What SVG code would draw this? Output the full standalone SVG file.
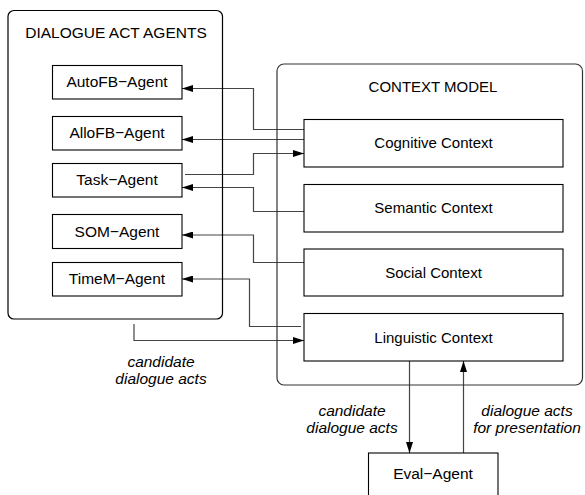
<svg xmlns="http://www.w3.org/2000/svg" width="585" height="495" viewBox="0 0 585 495">
<style>
text{font-family:"Liberation Sans",Arial,sans-serif;fill:#000;text-anchor:middle}
.lbl{font-size:15.5px}
.ctx{font-size:15px}
.it{font-size:15.5px;font-style:italic}
.box{fill:#fff;stroke:#000;stroke-width:1.1}
.cont{fill:none;stroke-width:1.2}
.con{fill:none;stroke:#444;stroke-width:1.2}
</style>
<defs>
<marker id="ah" markerUnits="userSpaceOnUse" markerWidth="11" markerHeight="7" viewBox="0 0 11 7" refX="11" refY="3.5" orient="auto">
<path d="M0,0 L11,3.5 L0,7 z" fill="#000"/>
</marker>
</defs>
<rect width="585" height="495" fill="#fff"/>
<g id="connectors">
<path class="con" d="M304,129.5 H253.5 V88.5 H182" marker-end="url(#ah)"/>
<path class="con" d="M304,139.5 H182" marker-end="url(#ah)"/>
<path class="con" d="M185,174.5 H253.5 V153.5 H304" marker-end="url(#ah)"/>
<path class="con" d="M304,211.5 H253.5 V187.5 H182" marker-end="url(#ah)"/>
<path class="con" d="M304,262.5 H253.5 V235 H182" marker-end="url(#ah)"/>
<path class="con" d="M301,326.5 H249.5 V279 H182" marker-end="url(#ah)"/>
<path class="con" d="M134,324 V340.5 H304" marker-end="url(#ah)"/>
<path class="con" d="M409.5,361 V453" marker-end="url(#ah)"/>
<path class="con" d="M463.5,453 V361" marker-end="url(#ah)"/>
</g>
<g id="dialogue-act-agents">
<rect class="cont" x="8" y="10.5" width="214.5" height="308.5" rx="6" stroke="#000"/>
<text class="lbl" x="116" y="38">DIALOGUE ACT AGENTS</text>
</g>
<g id="context-model">
<rect class="cont" x="277" y="64" width="305.5" height="321" rx="7" stroke="#333"/>
<text class="ctx" x="433" y="92">CONTEXT MODEL</text>
</g>
<g id="autofb-agent">
<rect class="box" x="52.5" y="65.5" width="129.5" height="33.5"/>
<text class="lbl" x="117" y="87">AutoFB−Agent</text>
</g>
<g id="allofb-agent">
<rect class="box" x="52.5" y="116.5" width="129.5" height="33.5"/>
<text class="lbl" x="117" y="138">AlloFB−Agent</text>
</g>
<g id="task-agent">
<rect class="box" x="52.5" y="163.5" width="129.5" height="33.5"/>
<text class="lbl" x="117" y="185">Task−Agent</text>
</g>
<g id="som-agent">
<rect class="box" x="52.5" y="214.5" width="129.5" height="34"/>
<text class="lbl" x="117" y="236.5">SOM−Agent</text>
</g>
<g id="timem-agent">
<rect class="box" x="52.5" y="262.5" width="129.5" height="33.5"/>
<text class="lbl" x="117" y="284">TimeM−Agent</text>
</g>
<g id="cognitive-context">
<rect class="box" x="304" y="119.5" width="259" height="47.5"/>
<text class="ctx" x="433.5" y="148">Cognitive Context</text>
</g>
<g id="semantic-context">
<rect class="box" x="304" y="184.5" width="259" height="47.5"/>
<text class="ctx" x="433.5" y="213">Semantic Context</text>
</g>
<g id="social-context">
<rect class="box" x="304" y="249" width="259" height="47"/>
<text class="ctx" x="433.5" y="278">Social Context</text>
</g>
<g id="linguistic-context">
<rect class="box" x="304" y="313.5" width="259" height="47.5"/>
<text class="ctx" x="433.5" y="342.5">Linguistic Context</text>
</g>
<g id="eval-agent">
<rect class="box" x="368.5" y="453" width="129.5" height="60"/>
<text class="lbl" x="433" y="479">Eval−Agent</text>
</g>
<g id="labels">
<text class="it" x="161" y="367">candidate</text>
<text class="it" x="161" y="384">dialogue acts</text>
<text class="it" x="352" y="415.5">candidate</text>
<text class="it" x="352" y="432.5">dialogue acts</text>
<text class="it" x="527" y="415.5">dialogue acts</text>
<text class="it" x="527" y="432.5">for presentation</text>
</g>
</svg>
